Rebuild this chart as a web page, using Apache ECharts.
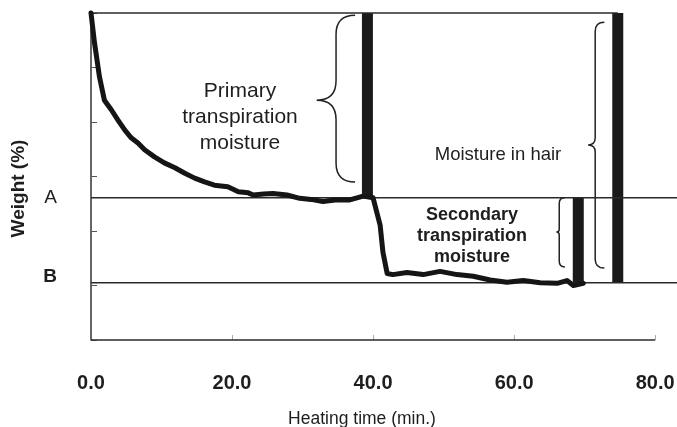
<!DOCTYPE html>
<html>
<head>
<meta charset="utf-8">
<title>Weight vs heating time</title>
<script src="https://cdn.jsdelivr.net/npm/echarts@6/dist/echarts.min.js"></script>
<style>
  html, body { margin: 0; padding: 0; background: #fff; }
  #chart { width: 677px; height: 427px; }
</style>
</head>
<body>
<div id="chart"></div>
<script>
// weight curve (time in min, weight in axis units)
var timeMin = [0, 0.5, 1.2, 1.9, 2.9, 3.8, 4.8, 5.7, 6.7, 7.6, 9.0, 10.4, 11.9, 13.3, 14.7, 16.1, 17.5,
    19.4, 20.9, 22.3, 23.0, 24.5, 25.8, 27.8, 29.6, 31.2, 32.9, 34.6, 36.7, 38.6, 40.0,
    41.0, 41.4, 42.0, 42.8, 44.8, 47.1, 49.5, 51.9, 54.2, 56.6, 59.0, 61.3, 63.7, 66.1, 67.5, 68.4, 69.8];
var weight = [6.0, 5.45, 4.83, 4.40, 4.22, 4.04, 3.85, 3.71, 3.61, 3.49, 3.36, 3.25, 3.16, 3.06, 2.97, 2.90, 2.84,
    2.81, 2.72, 2.70, 2.66, 2.68, 2.69, 2.66, 2.60, 2.58, 2.54, 2.57, 2.57, 2.64, 2.61,
    2.11, 1.61, 1.22, 1.20, 1.24, 1.20, 1.26, 1.20, 1.17, 1.10, 1.06, 1.09, 1.05, 1.04, 1.09, 1.00, 1.04];

var levelTop = 6;
var levelA = 2.61;
var levelB = 1.05;
var levelNames = ['A', 'B'];
var xTicks = [0, 20, 40, 60, 80];
var yTicks = [0, 1, 2, 3, 4, 5, 6];

// thick marker bars: [time, from level, to level]
var markerBars = [[39.2, levelA, levelTop], [69.1, levelB, levelA], [74.7, levelB, levelTop]];
// horizontal rules: [from time, to time, level]
var rules = [[0, 74.7, levelTop], [0, 83.1, levelA], [0, 83.1, levelB], [0, 80, 0]];
// braces: [tip time, stem time, end time, top level, bottom level, tip level]
var braces = [[32.0, 34.75, 37.45, 5.96, 2.90, 4.40],
    [70.5, 71.5, 72.8, 5.83, 1.32, 3.58],
    [66.0, 66.4, 67.2, 2.61, 1.34, 1.98]];

var font = '"Liberation Sans", Arial, sans-serif';
var ink = '#1e1e1e';

var curve = [];
for (var i = 0; i < timeMin.length; i++) curve.push([timeMin[i], weight[i]]);

var ruleSeries = rules.map(function (r) {
    return {
        type: 'line', data: [[r[0], r[2]], [r[1], r[2]]], symbol: 'none', clip: false,
        silent: true, lineStyle: { color: '#2a2a2a', width: 1.5 }
    };
});

function renderBar(params, api) {
    var a = api.coord([api.value(0), api.value(1)]);
    var b = api.coord([api.value(0), api.value(2)]);
    var w = 11;
    return {
        type: 'rect',
        shape: { x: a[0] - w / 2, y: b[1], width: w, height: a[1] - b[1] },
        style: { fill: '#1a1a1a' }
    };
}

function renderBrace(params, api) {
    var tx = api.coord([api.value(0), 0])[0];
    var sx = api.coord([api.value(1), 0])[0];
    var ex = api.coord([api.value(2), 0])[0];
    var top = api.coord([0, api.value(3)])[1];
    var bot = api.coord([0, api.value(4)])[1];
    var mid = api.coord([0, api.value(5)])[1];
    var r1 = ex - sx, r2 = sx - tx;
    var d = 'M' + ex + ' ' + top +
        ' Q' + sx + ' ' + top + ' ' + sx + ' ' + (top + r1) +
        ' L' + sx + ' ' + (mid - r2) +
        ' Q' + sx + ' ' + mid + ' ' + tx + ' ' + mid +
        ' Q' + sx + ' ' + mid + ' ' + sx + ' ' + (mid + r2) +
        ' L' + sx + ' ' + (bot - r1) +
        ' Q' + sx + ' ' + bot + ' ' + ex + ' ' + bot;
    return {
        type: 'path',
        shape: { pathData: d },
        style: { stroke: '#222', lineWidth: 1.5, fill: null }
    };
}

var chart = echarts.init(document.getElementById('chart'));
var option = {
    animation: false,
    backgroundColor: '#fff',
    grid: { left: 91, top: 13, right: 0, bottom: 87, outerBoundsMode: 'none', containLabel: false },
    xAxis: {
        type: 'value', min: 0, max: 83.1,
        name: 'Heating time (min.)', nameLocation: 'middle', nameGap: 70,
        nameTextStyle: { fontFamily: font, fontSize: 17.5, color: ink, padding: [0, 44, 0, 0] },
        axisLine: { show: false },
        axisTick: { show: true, inside: true, length: 5, customValues: xTicks.slice(1),
            lineStyle: { color: '#aaa' } },
        axisLabel: { customValues: xTicks, margin: 33, fontFamily: font, fontSize: 20, fontWeight: 'bold',
            color: ink, formatter: function (v) { return v.toFixed(1); } },
        splitLine: { show: false }
    },
    yAxis: {
        type: 'value', min: 0, max: 6,
        name: 'Weight (%)', nameLocation: 'middle', nameGap: 63, nameRotate: 90,
        nameTextStyle: { fontFamily: font, fontSize: 19, fontWeight: 'bold', color: ink, padding: [0, 24, 0, 0] },
        axisLine: { show: true, lineStyle: { color: '#333', width: 1.5 } },
        axisTick: { show: true, inside: true, length: 6, customValues: yTicks, lineStyle: { color: '#555' } },
        axisLabel: {
            customValues: [levelA, levelB], margin: 34, fontFamily: font, fontSize: 19, color: ink,
            formatter: function (v) { return v === levelA ? levelNames[0] : '{b|' + levelNames[1] + '}'; },
            rich: { b: { fontFamily: font, fontSize: 19, fontWeight: 'bold', color: ink, padding: [0, 0, 12, 0] } }
        },
        splitLine: { show: false }
    },
    graphic: [
        { type: 'text', x: 240, y: 117, style: { text: 'Primary\ntranspiration\nmoisture', align: 'center',
            verticalAlign: 'middle', fontFamily: font, fontSize: 21, lineHeight: 26, fill: ink } },
        { type: 'text', x: 498, y: 155, style: { text: 'Moisture in hair', align: 'center',
            verticalAlign: 'middle', fontFamily: font, fontSize: 18.5, fill: ink } },
        { type: 'text', x: 472, y: 236, style: { text: 'Secondary\ntranspiration\nmoisture', align: 'center',
            verticalAlign: 'middle', fontFamily: font, fontSize: 18, fontWeight: 'bold', lineHeight: 21, fill: ink } }
    ],
    series: ruleSeries.concat([
        {
            type: 'line', data: curve, symbol: 'none', clip: false, silent: true,
            lineStyle: { color: '#151515', width: 5, join: 'round', cap: 'round' }
        },
        { type: 'custom', data: markerBars, renderItem: renderBar, silent: true, clip: false },
        { type: 'custom', data: braces, renderItem: renderBrace, silent: true, clip: false }
    ])
};
chart.setOption(option);
</script>
</body>
</html>
